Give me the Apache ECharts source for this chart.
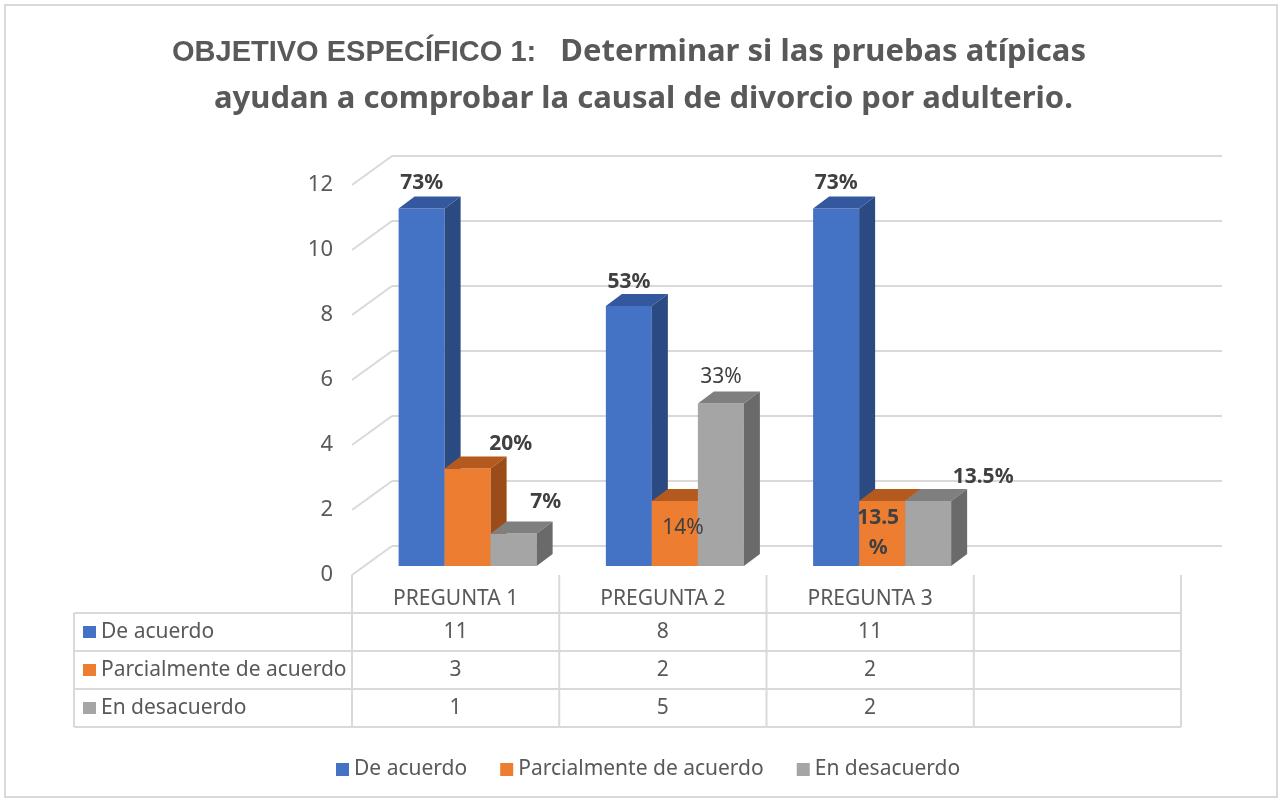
<!DOCTYPE html>
<html>
<head>
<meta charset="utf-8">
<script src="https://cdn.jsdelivr.net/npm/echarts@6.0.0/dist/echarts.min.js"></script>
<style>
  html, body { margin: 0; padding: 0; background: #fff; }
  #chart { width: 1281px; height: 803px; }
</style>
</head>
<body>
<div id="chart"></div>
<script>
var categories = ['PREGUNTA 1', 'PREGUNTA 2', 'PREGUNTA 3', ''];
var seriesNames = ['De acuerdo', 'Parcialmente de acuerdo', 'En desacuerdo'];
var deAcuerdo = [11, 8, 11];
var parcialmente = [3, 2, 2];
var enDesacuerdo = [1, 5, 2];
var pctDeAcuerdo = ['73%', '53%', '73%'];
var pctParcialmente = ['20%', '14%', '13.5\n%'];
var pctEnDesacuerdo = ['7%', '33%', '13.5%'];
var yTicks = [0, 2, 4, 6, 8, 10, 12];

var seriesValues = [deAcuerdo, parcialmente, enDesacuerdo];
var seriesPct = [pctDeAcuerdo, pctParcialmente, pctEnDesacuerdo];

// label placement, relative to the top centre of each bar's front face
var labelOffsets = [
  [[0, -25], [0, -24], [0, -25]],
  [[43, -24], [8, 27], [-4, 32]],
  [[32, -31], [0, -26], [55, -24]]
];
var labelBold = [
  [true, true, true],
  [true, false, true],
  [true, false, true]
];

var faces = [
  { front: '#4472C4', top: '#34589E', side: '#2C4A82' },
  { front: '#ED7D31', top: '#B55A1F', side: '#9C4C18' },
  { front: '#A5A5A5', top: '#7F7F7F', side: '#6A6A6A' }
];
var ink = '#595959';
var rule = '#D9D9D9';
var font = 'Noto Sans';

var chart = echarts.init(document.getElementById('chart'), null, { renderer: 'canvas' });

// front face geometry of one bar, from the axes
function barBox(s, api) {
  var cat = api.value(0), val = api.value(1);
  var base = api.coord([cat, 0]);
  var top = api.coord([cat, val]);
  var w = api.size([1, 0])[0] * 0.222;
  return { x0: base[0] - 1.5 * w + s * w, y0: top[1], y1: base[1], w: w };
}

function barRenderer(s) {
  return function (params, api) {
    var b = barBox(s, api);
    var x0 = b.x0, y0 = b.y0, y1 = b.y1, w = b.w;
    var dx = 16, dy = -12;
    var f = faces[s];
    return {
      type: 'group',
      children: [
        { type: 'rect', shape: { x: x0, y: y0, width: w, height: y1 - y0 }, style: { fill: f.front } },
        { type: 'polygon', shape: { points: [[x0, y0], [x0 + w, y0], [x0 + w + dx, y0 + dy], [x0 + dx, y0 + dy]] }, style: { fill: f.top } },
        { type: 'polygon', shape: { points: [[x0 + w, y0], [x0 + w + dx, y0 + dy], [x0 + w + dx, y1 + dy], [x0 + w, y1]] }, style: { fill: f.side } }
      ]
    };
  };
}

function labelRenderer(s) {
  return function (params, api) {
    var b = barBox(s, api);
    var off = labelOffsets[s][params.dataIndex];
    var bold = labelBold[s][params.dataIndex];
    return {
      type: 'text', x: b.x0 + b.w / 2 + off[0], y: b.y0 + off[1],
      style: {
        text: seriesPct[s][params.dataIndex], align: 'center', verticalAlign: 'middle',
        fontFamily: font, fontSize: 21, fontWeight: bold ? 'bold' : 'normal',
        fill: '#404040', lineHeight: 30
      }
    };
  };
}

function tableRenderer(params, api) {
  var c = api.value(0), r = api.value(1);
  var p = api.coord([c, r]);
  var cw = api.size([1, 0])[0], rh = api.size([0, 1])[1];
  var left = p[0] - cw / 2, right = p[0] + cw / 2, top = p[1] - rh / 2, bottom = p[1] + rh / 2;
  var line = { stroke: rule, lineWidth: 2 };
  var kids = [];
  kids.push({ type: 'line', shape: { x1: left, y1: top, x2: left, y2: bottom }, style: line });
  if (c === categories.length - 1) {
    kids.push({ type: 'line', shape: { x1: right, y1: top, x2: right, y2: bottom }, style: line });
  }
  var txt;
  if (r === 0) {
    txt = categories[c];
  } else {
    var v = seriesValues[r - 1][c];
    txt = v === undefined ? '' : String(v);
    kids.push({ type: 'line', shape: { x1: left, y1: top, x2: right, y2: top }, style: line });
    kids.push({ type: 'line', shape: { x1: left, y1: bottom, x2: right, y2: bottom }, style: line });
    if (c === 0) {
      var lx = 74;
      kids.push({ type: 'line', shape: { x1: lx, y1: top, x2: left, y2: top }, style: line });
      kids.push({ type: 'line', shape: { x1: lx, y1: bottom, x2: left, y2: bottom }, style: line });
      kids.push({ type: 'line', shape: { x1: lx, y1: top, x2: lx, y2: bottom }, style: line });
      kids.push({ type: 'rect', shape: { x: lx + 9, y: p[1] - 6, width: 13, height: 12 }, style: { fill: faces[r - 1].front } });
      kids.push({
        type: 'text', x: lx + 27, y: p[1],
        style: { text: seriesNames[r - 1], align: 'left', verticalAlign: 'middle', fontFamily: font, fontSize: 21, fill: ink }
      });
    }
  }
  kids.push({
    type: 'text', x: p[0], y: p[1] + (r === 0 ? 5 : 0),
    style: { text: txt, align: 'center', verticalAlign: 'middle', fontFamily: font, fontSize: 21, fill: ink }
  });
  return { type: 'group', children: kids };
}

function wallRenderer(params, api) {
  var p = api.coord([0, api.value(0)]);
  var x = params.coordSys.x;
  return { type: 'line', shape: { x1: x, y1: p[1], x2: x + 40, y2: p[1] - 29 }, style: { stroke: rule, lineWidth: 2 } };
}

var tableCells = [];
for (var r = 0; r <= seriesNames.length; r++) {
  for (var c = 0; c < categories.length; c++) tableCells.push([c, r]);
}

var valueAxis = function (idx, show) {
  return {
    type: 'value', gridIndex: idx, min: 0, max: 12, interval: 2,
    axisLine: { show: false }, axisTick: { show: false },
    axisLabel: { show: show, color: ink, fontSize: 22, fontFamily: font, margin: 19 },
    splitLine: { show: idx === 0, lineStyle: { color: rule, width: 2 } }
  };
};
var catAxis = function (idx) {
  return { type: 'category', gridIndex: idx, data: categories, show: false };
};

var series = [{
  type: 'custom', xAxisIndex: 1, yAxisIndex: 1, silent: true,
  renderItem: wallRenderer, data: yTicks.map(function (t) { return [t]; }), z: 1
}];
seriesNames.forEach(function (name, s) {
  series.push({
    name: name, type: 'custom', xAxisIndex: 2, yAxisIndex: 2,
    itemStyle: { color: faces[s].front },
    renderItem: barRenderer(s),
    data: seriesValues[s].map(function (v, i) { return [i, v]; }),
    z: 5
  });
});
seriesNames.forEach(function (name, s) {
  series.push({
    type: 'custom', xAxisIndex: 2, yAxisIndex: 2, silent: true,
    renderItem: labelRenderer(s),
    data: seriesValues[s].map(function (v, i) { return [i, v]; }),
    z: 8
  });
});
series.push({
  type: 'custom', xAxisIndex: 3, yAxisIndex: 3, silent: true,
  renderItem: tableRenderer, data: tableCells, z: 3
});

chart.setOption({
  animation: false,
  backgroundColor: '#fff',
  title: [
    {
      left: 167, top: 32,
      text: '{a|OBJETIVO ESPECÍFICO 1:}{b|   Determinar si las pruebas atípicas}',
      textStyle: {
        rich: {
          a: { fontFamily: 'Liberation Sans', fontWeight: 'bold', fontSize: 29, color: ink },
          b: { fontFamily: font, fontWeight: 'bold', fontSize: 31, color: ink }
        }
      }
    },
    {
      left: 209, top: 79,
      text: 'ayudan a comprobar la causal de divorcio por adulterio.',
      textStyle: { fontFamily: font, fontWeight: 'bold', fontSize: 31, color: ink }
    }
  ],
  legend: {
    data: seriesNames, left: 331, top: 754, icon: 'rect',
    itemWidth: 13, itemHeight: 13, itemGap: 33,
    textStyle: { fontSize: 21, color: ink, fontFamily: font }
  },
  graphic: [{
    type: 'rect', shape: { x: 5, y: 5, width: 1272, height: 792 },
    style: { fill: 'none', stroke: rule, lineWidth: 2 }, silent: true
  }],
  grid: [
    { left: 392, top: 156, width: 830, height: 390 },
    { left: 352, top: 185, width: 829, height: 390 },
    { left: 364, top: 176, width: 829, height: 390 },
    { left: 352, top: 575, width: 829, height: 152 }
  ],
  xAxis: [catAxis(0), catAxis(1), catAxis(2), catAxis(3)],
  yAxis: [
    valueAxis(0, false), valueAxis(1, true), valueAxis(2, false),
    { type: 'category', gridIndex: 3, data: [''].concat(seriesNames), inverse: true, show: false }
  ],
  series: series
});
window.addEventListener('resize', function () { chart.resize(); });
</script>
</body>
</html>
